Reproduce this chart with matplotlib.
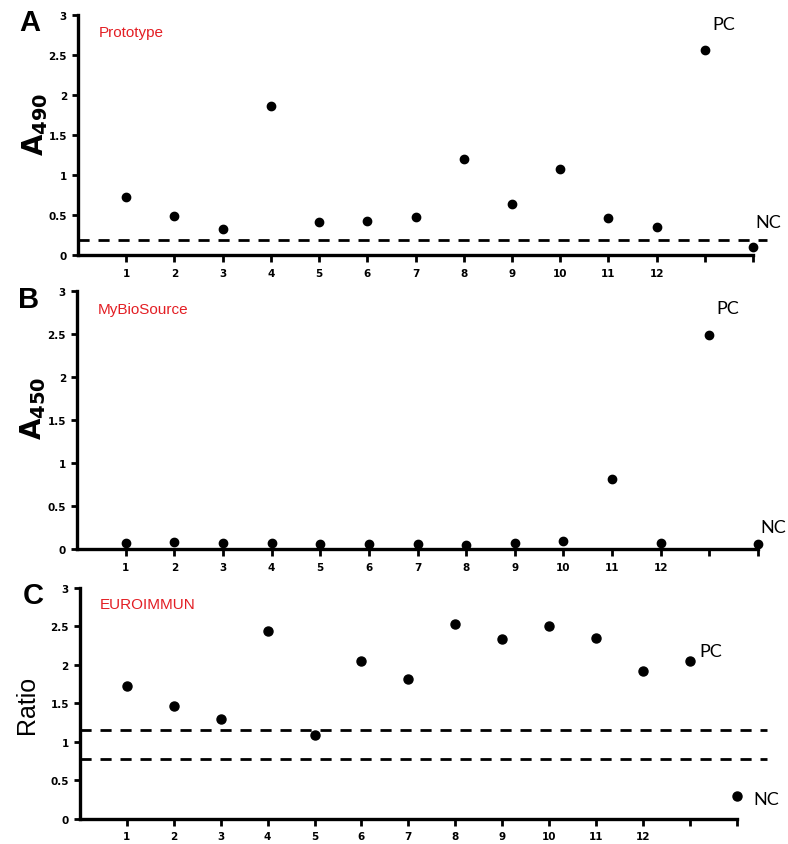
import matplotlib
matplotlib.use("Agg")
import matplotlib.pyplot as plt

plt.rcParams["mathtext.fontset"] = "dejavusans"

# sample positions: 1-12 samples, 13 = PC, 14 = NC
samples = list(range(1, 15))
tick_labels = [str(i) for i in range(1, 13)] + ["", ""]

prototype = [0.72, 0.49, 0.33, 1.86, 0.41, 0.43, 0.48, 1.20, 0.64, 1.08, 0.46, 0.35, 2.56, 0.10]
mybiosource = [0.07, 0.08, 0.07, 0.07, 0.06, 0.06, 0.06, 0.05, 0.07, 0.09, 0.81, 0.07, 2.49, 0.06]
euroimmun = [1.73, 1.47, 1.30, 2.44, 1.09, 2.05, 1.82, 2.53, 2.34, 2.51, 2.35, 1.92, 2.05, 0.30]

cutoff_a = [0.19]
cutoff_c = [1.16, 0.78]

red = "#e31e24"

fig = plt.figure(figsize=(7.88, 8.45), dpi=100)

def setup(ax, ylabel, name, letter, sz=20, regular=False):
    ax.set_xlim(0, 14)
    ax.set_ylim(0, 3)
    ax.spines["top"].set_visible(False)
    ax.spines["right"].set_visible(False)
    ax.spines["left"].set_linewidth(2.4)
    ax.spines["bottom"].set_linewidth(2.4)
    ax.set_xticks(samples)
    ax.set_xticklabels(tick_labels)
    ax.set_yticks([0, 0.5, 1, 1.5, 2, 2.5, 3])
    ax.set_yticklabels(["0", "0.5", "1", "1.5", "2", "2.5", "3"])
    ax.tick_params(axis="both", direction="out", width=2, labelsize=7.5)
    ax.tick_params(axis="y", length=4, pad=4)
    ax.tick_params(axis="x", length=5, pad=4)
    for lab in ax.get_xticklabels() + ax.get_yticklabels():
        lab.set_fontweight("bold")
    if regular:
        ax.set_ylabel(ylabel, fontsize=sz, family="Liberation Sans", labelpad=8)
    else:
        ax.set_ylabel(ylabel, fontsize=sz)
        ax.yaxis.set_label_coords(-0.042, 0.55)
    ax.text(0.03, 0.93, name, transform=ax.transAxes, color=red,
            fontsize=11, family="Liberation Sans", va="center")
    ax.text(-0.087, 0.97, letter, transform=ax.transAxes, fontsize=21,
            fontweight="bold", family="Liberation Sans", va="center", ha="left")

# panel A
ax1 = fig.add_axes([0.099, 0.697, 0.8566, 0.284])
setup(ax1, r"$\mathbf{A_{490}}$", "Prototype", "A")
ax1.plot(samples, prototype, "o", color="black", ms=6, clip_on=False)
ax1.plot([0, 14.3], [cutoff_a[0]] * 2, "--", color="black", lw=2, dashes=(4, 3.2), clip_on=False)
ax1.text(13.15, 2.83, "PC", fontsize=13, family="Lato")
ax1.text(14.05, 0.35, "NC", fontsize=13, family="Lato")

# panel B
ax2 = fig.add_axes([0.0977, 0.349, 0.8643, 0.3054])
setup(ax2, r"$\mathbf{A_{450}}$", "MyBioSource", "B")
ax2.plot(samples, mybiosource, "o", color="black", ms=6, clip_on=False)
ax2.text(13.15, 2.75, "PC", fontsize=13, family="Lato")
ax2.text(14.05, 0.2, "NC", fontsize=13, family="Lato")

# panel C
ax3 = fig.add_axes([0.1015, 0.0296, 0.8335, 0.2734])
setup(ax3, "Ratio", "EUROIMMUN", "C", sz=18, regular=True)
ax3.plot(samples, euroimmun, "o", color="black", ms=6.5, clip_on=False)
for c in cutoff_c:
    ax3.plot([0, 14.65], [c, c], "--", color="black", lw=2, dashes=(4, 3.2), clip_on=False)
ax3.text(13.2, 2.12, "PC", fontsize=13, family="Lato")
ax3.text(14.35, 0.19, "NC", fontsize=13, family="Lato")

fig.savefig("out.png", dpi=100)
